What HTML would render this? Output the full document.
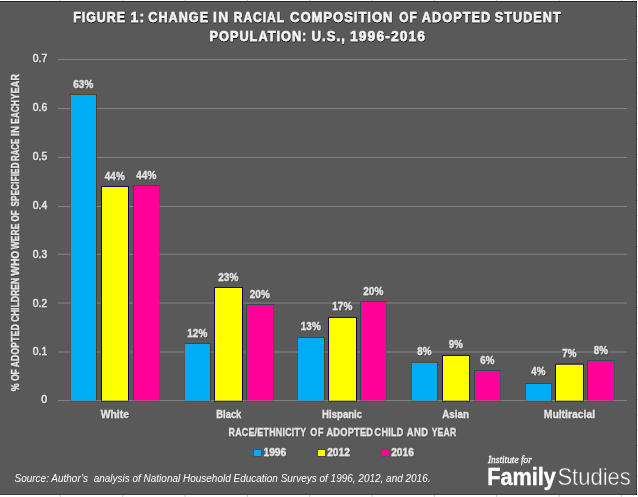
<!DOCTYPE html>
<html lang="en"><head><meta charset="utf-8">
<title>Figure 1: Change in racial composition of adopted student population: U.S., 1996-2016</title>
<style>
html,body{margin:0;padding:0;background:#fff;}
body{width:638px;height:497px;overflow:hidden;}
svg{display:block;}
text{font-family:"Liberation Sans",sans-serif;}
.b{font-weight:bold;fill:#e4e4e4;stroke:#e4e4e4;stroke-width:0.3px;}
.t{font-weight:bold;fill:#f4f4f4;stroke:#f4f4f4;stroke-width:0.45px;font-size:14px;}
.ax{fill:#e4e4e4;stroke:#e4e4e4;stroke-width:0.5px;font-size:11px;}
.src{fill:#fff;font-style:italic;font-size:10px;}
.sh{filter:url(#sh);}
.sh2{filter:url(#sh2);}
</style></head><body>
<svg width="638" height="497" viewBox="0 0 638 497">
<defs>
<filter id="sh" x="-5%" y="-30%" width="110%" height="170%"><feDropShadow dx="0.3" dy="0.5" stdDeviation="0.7" flood-color="#000" flood-opacity="0.5"/></filter>
<filter id="sh2" x="-5%" y="-30%" width="110%" height="170%"><feDropShadow dx="0.3" dy="1" stdDeviation="0.5" flood-color="#000" flood-opacity="0.9"/></filter>
</defs>
<rect x="0" y="0" width="638" height="497" fill="#fff"/>
<rect x="59.8" y="0" width="1" height="1" fill="#d0d0d0"/>
<rect x="59.8" y="495" width="1" height="2" fill="#d0d0d0"/>
<rect x="122.2" y="0" width="1" height="1" fill="#d0d0d0"/>
<rect x="122.2" y="495" width="1" height="2" fill="#d0d0d0"/>
<rect x="184.5" y="0" width="1" height="1" fill="#d0d0d0"/>
<rect x="184.5" y="495" width="1" height="2" fill="#d0d0d0"/>
<rect x="246.9" y="0" width="1" height="1" fill="#d0d0d0"/>
<rect x="246.9" y="495" width="1" height="2" fill="#d0d0d0"/>
<rect x="309.2" y="0" width="1" height="1" fill="#d0d0d0"/>
<rect x="309.2" y="495" width="1" height="2" fill="#d0d0d0"/>
<rect x="371.6" y="0" width="1" height="1" fill="#d0d0d0"/>
<rect x="371.6" y="495" width="1" height="2" fill="#d0d0d0"/>
<rect x="433.9" y="0" width="1" height="1" fill="#d0d0d0"/>
<rect x="433.9" y="495" width="1" height="2" fill="#d0d0d0"/>
<rect x="496.2" y="0" width="1" height="1" fill="#d0d0d0"/>
<rect x="496.2" y="495" width="1" height="2" fill="#d0d0d0"/>
<rect x="558.6" y="0" width="1" height="1" fill="#d0d0d0"/>
<rect x="558.6" y="495" width="1" height="2" fill="#d0d0d0"/>
<rect x="620.9" y="0" width="1" height="1" fill="#d0d0d0"/>
<rect x="620.9" y="495" width="1" height="2" fill="#d0d0d0"/>
<rect x="637" y="15.8" width="1" height="1" fill="#d4d4d4"/>
<rect x="637" y="31.1" width="1" height="1" fill="#d4d4d4"/>
<rect x="637" y="46.5" width="1" height="1" fill="#d4d4d4"/>
<rect x="637" y="61.8" width="1" height="1" fill="#d4d4d4"/>
<rect x="637" y="77.1" width="1" height="1" fill="#d4d4d4"/>
<rect x="637" y="92.5" width="1" height="1" fill="#d4d4d4"/>
<rect x="637" y="107.8" width="1" height="1" fill="#d4d4d4"/>
<rect x="637" y="123.1" width="1" height="1" fill="#d4d4d4"/>
<rect x="637" y="138.4" width="1" height="1" fill="#d4d4d4"/>
<rect x="637" y="153.8" width="1" height="1" fill="#d4d4d4"/>
<rect x="637" y="169.1" width="1" height="1" fill="#d4d4d4"/>
<rect x="637" y="184.4" width="1" height="1" fill="#d4d4d4"/>
<rect x="637" y="199.8" width="1" height="1" fill="#d4d4d4"/>
<rect x="637" y="215.1" width="1" height="1" fill="#d4d4d4"/>
<rect x="637" y="230.4" width="1" height="1" fill="#d4d4d4"/>
<rect x="637" y="245.8" width="1" height="1" fill="#d4d4d4"/>
<rect x="637" y="261.1" width="1" height="1" fill="#d4d4d4"/>
<rect x="637" y="276.4" width="1" height="1" fill="#d4d4d4"/>
<rect x="637" y="291.7" width="1" height="1" fill="#d4d4d4"/>
<rect x="637" y="307.1" width="1" height="1" fill="#d4d4d4"/>
<rect x="637" y="322.4" width="1" height="1" fill="#d4d4d4"/>
<rect x="637" y="337.7" width="1" height="1" fill="#d4d4d4"/>
<rect x="637" y="353.1" width="1" height="1" fill="#d4d4d4"/>
<rect x="637" y="368.4" width="1" height="1" fill="#d4d4d4"/>
<rect x="637" y="383.7" width="1" height="1" fill="#d4d4d4"/>
<rect x="637" y="399.1" width="1" height="1" fill="#d4d4d4"/>
<rect x="637" y="414.4" width="1" height="1" fill="#d4d4d4"/>
<rect x="637" y="429.7" width="1" height="1" fill="#d4d4d4"/>
<rect x="637" y="445.0" width="1" height="1" fill="#d4d4d4"/>
<rect x="637" y="460.4" width="1" height="1" fill="#d4d4d4"/>
<rect x="637" y="475.7" width="1" height="1" fill="#d4d4d4"/>
<rect x="637" y="491.0" width="1" height="1" fill="#d4d4d4"/>
<rect x="0" y="1" width="637" height="494" fill="#3c3c3c"/>
<rect x="0" y="1" width="637" height="1" fill="#242424"/>
<rect x="636" y="1" width="1" height="1" fill="#000"/>
<rect x="636" y="494" width="1" height="1" fill="#000"/>
<rect x="0" y="2" width="636" height="492" fill="#595959"/>
<rect x="58" y="351.5" width="569" height="1" fill="#828282"/>
<rect x="58" y="302.55" width="569" height="1" fill="#828282"/>
<rect x="58" y="253.75" width="569" height="1" fill="#828282"/>
<rect x="58" y="206" width="569" height="1" fill="#828282"/>
<rect x="58" y="157" width="569" height="1" fill="#828282"/>
<rect x="58" y="108" width="569" height="1" fill="#828282"/>
<rect x="58" y="59" width="569" height="1" fill="#828282"/>
<rect x="58" y="400" width="569" height="1" fill="#828282"/>
<rect x="71" y="95" width="25" height="306" fill="#00adf5"/>
<rect x="70" y="94" width="27" height="1" fill="#4d3205" fill-opacity="0.55"/>
<rect x="96" y="95" width="1" height="306" fill="#4d3205" fill-opacity="0.7"/>
<rect x="70" y="401" width="27" height="1" fill="#4d3205" fill-opacity="0.3"/>
<rect x="70" y="95" width="1" height="306" fill="#4d3205" fill-opacity="0.22"/>
<rect x="102" y="187" width="26" height="214" fill="#ffff00"/>
<rect x="101" y="186" width="28" height="1" fill="#12005f" fill-opacity="0.85"/>
<rect x="128" y="187" width="1" height="214" fill="#12005f" fill-opacity="1"/>
<rect x="101" y="401" width="28" height="1" fill="#12005f" fill-opacity="0.45"/>
<rect x="101" y="187" width="1" height="214" fill="#12005f" fill-opacity="1"/>
<rect x="134" y="186" width="25" height="215" fill="#ff0099"/>
<rect x="133" y="185" width="27" height="1" fill="#0d5544" fill-opacity="0.7"/>
<rect x="159" y="186" width="1" height="215" fill="#0d5544" fill-opacity="0.22"/>
<rect x="133" y="401" width="27" height="1" fill="#0d5544" fill-opacity="0.35"/>
<rect x="133" y="186" width="1" height="215" fill="#0d5544" fill-opacity="0.85"/>
<rect x="185" y="344" width="25" height="57" fill="#00adf5"/>
<rect x="184" y="343" width="27" height="1" fill="#4d3205" fill-opacity="0.55"/>
<rect x="210" y="344" width="1" height="57" fill="#4d3205" fill-opacity="0.7"/>
<rect x="184" y="401" width="27" height="1" fill="#4d3205" fill-opacity="0.3"/>
<rect x="184" y="344" width="1" height="57" fill="#4d3205" fill-opacity="0.22"/>
<rect x="215" y="288" width="27" height="113" fill="#ffff00"/>
<rect x="214" y="287" width="29" height="1" fill="#12005f" fill-opacity="0.85"/>
<rect x="242" y="288" width="1" height="113" fill="#12005f" fill-opacity="1"/>
<rect x="214" y="401" width="29" height="1" fill="#12005f" fill-opacity="0.45"/>
<rect x="214" y="288" width="1" height="113" fill="#12005f" fill-opacity="1"/>
<rect x="247" y="305" width="26" height="96" fill="#ff0099"/>
<rect x="246" y="304" width="28" height="1" fill="#0d5544" fill-opacity="0.7"/>
<rect x="273" y="305" width="1" height="96" fill="#0d5544" fill-opacity="0.22"/>
<rect x="246" y="401" width="28" height="1" fill="#0d5544" fill-opacity="0.35"/>
<rect x="246" y="305" width="1" height="96" fill="#0d5544" fill-opacity="0.85"/>
<rect x="298" y="338" width="26" height="63" fill="#00adf5"/>
<rect x="297" y="337" width="28" height="1" fill="#4d3205" fill-opacity="0.55"/>
<rect x="324" y="338" width="1" height="63" fill="#4d3205" fill-opacity="0.7"/>
<rect x="297" y="401" width="28" height="1" fill="#4d3205" fill-opacity="0.3"/>
<rect x="297" y="338" width="1" height="63" fill="#4d3205" fill-opacity="0.22"/>
<rect x="329" y="318" width="27" height="83" fill="#ffff00"/>
<rect x="328" y="317" width="29" height="1" fill="#12005f" fill-opacity="0.85"/>
<rect x="356" y="318" width="1" height="83" fill="#12005f" fill-opacity="1"/>
<rect x="328" y="401" width="29" height="1" fill="#12005f" fill-opacity="0.45"/>
<rect x="328" y="318" width="1" height="83" fill="#12005f" fill-opacity="1"/>
<rect x="361" y="302" width="25" height="99" fill="#ff0099"/>
<rect x="360" y="301" width="27" height="1" fill="#0d5544" fill-opacity="0.7"/>
<rect x="386" y="302" width="1" height="99" fill="#0d5544" fill-opacity="0.22"/>
<rect x="360" y="401" width="27" height="1" fill="#0d5544" fill-opacity="0.35"/>
<rect x="360" y="302" width="1" height="99" fill="#0d5544" fill-opacity="0.85"/>
<rect x="412" y="362.8" width="25" height="38.2" fill="#00adf5"/>
<rect x="411" y="361.8" width="27" height="1" fill="#4d3205" fill-opacity="0.55"/>
<rect x="437" y="362.8" width="1" height="38.2" fill="#4d3205" fill-opacity="0.7"/>
<rect x="411" y="401" width="27" height="1" fill="#4d3205" fill-opacity="0.3"/>
<rect x="411" y="362.8" width="1" height="38.2" fill="#4d3205" fill-opacity="0.22"/>
<rect x="443" y="356" width="26" height="45" fill="#ffff00"/>
<rect x="442" y="355" width="28" height="1" fill="#12005f" fill-opacity="0.85"/>
<rect x="469" y="356" width="1" height="45" fill="#12005f" fill-opacity="1"/>
<rect x="442" y="401" width="28" height="1" fill="#12005f" fill-opacity="0.45"/>
<rect x="442" y="356" width="1" height="45" fill="#12005f" fill-opacity="1"/>
<rect x="475" y="371" width="25" height="30" fill="#ff0099"/>
<rect x="474" y="370" width="27" height="1" fill="#0d5544" fill-opacity="0.7"/>
<rect x="500" y="371" width="1" height="30" fill="#0d5544" fill-opacity="0.22"/>
<rect x="474" y="401" width="27" height="1" fill="#0d5544" fill-opacity="0.35"/>
<rect x="474" y="371" width="1" height="30" fill="#0d5544" fill-opacity="0.85"/>
<rect x="526" y="384" width="25" height="17" fill="#00adf5"/>
<rect x="525" y="383" width="27" height="1" fill="#4d3205" fill-opacity="0.55"/>
<rect x="551" y="384" width="1" height="17" fill="#4d3205" fill-opacity="0.7"/>
<rect x="525" y="401" width="27" height="1" fill="#4d3205" fill-opacity="0.3"/>
<rect x="525" y="384" width="1" height="17" fill="#4d3205" fill-opacity="0.22"/>
<rect x="556" y="364.6" width="27" height="36.4" fill="#ffff00"/>
<rect x="555" y="363.6" width="29" height="1" fill="#12005f" fill-opacity="0.85"/>
<rect x="583" y="364.6" width="1" height="36.4" fill="#12005f" fill-opacity="1"/>
<rect x="555" y="401" width="29" height="1" fill="#12005f" fill-opacity="0.45"/>
<rect x="555" y="364.6" width="1" height="36.4" fill="#12005f" fill-opacity="1"/>
<rect x="588" y="361" width="26" height="40" fill="#ff0099"/>
<rect x="587" y="360" width="28" height="1" fill="#0d5544" fill-opacity="0.7"/>
<rect x="614" y="361" width="1" height="40" fill="#0d5544" fill-opacity="0.22"/>
<rect x="587" y="401" width="28" height="1" fill="#0d5544" fill-opacity="0.35"/>
<rect x="587" y="361" width="1" height="40" fill="#0d5544" fill-opacity="0.85"/>
<rect x="58" y="400" width="569" height="1" fill="#828282" fill-opacity="0.55"/>
<g class="b sh" font-size="10.1" text-anchor="middle">
<text x="83.3" y="87.9" textLength="19.9" lengthAdjust="spacingAndGlyphs">63%</text>
<text x="114.8" y="179.7" textLength="19.9" lengthAdjust="spacingAndGlyphs">44%</text>
<text x="146.3" y="178.7" textLength="19.9" lengthAdjust="spacingAndGlyphs">44%</text>
<text x="197.3" y="336.9" textLength="19.9" lengthAdjust="spacingAndGlyphs">12%</text>
<text x="228.3" y="281.0" textLength="19.9" lengthAdjust="spacingAndGlyphs">23%</text>
<text x="259.8" y="297.8" textLength="19.9" lengthAdjust="spacingAndGlyphs">20%</text>
<text x="310.8" y="330.2" textLength="19.9" lengthAdjust="spacingAndGlyphs">13%</text>
<text x="342.3" y="310.2" textLength="19.9" lengthAdjust="spacingAndGlyphs">17%</text>
<text x="373.3" y="295.1" textLength="19.9" lengthAdjust="spacingAndGlyphs">20%</text>
<text x="424.3" y="355.1" textLength="14.1" lengthAdjust="spacingAndGlyphs">8%</text>
<text x="455.8" y="348.0" textLength="14.1" lengthAdjust="spacingAndGlyphs">9%</text>
<text x="487.3" y="364.0" textLength="14.1" lengthAdjust="spacingAndGlyphs">6%</text>
<text x="538.3" y="375.4" textLength="14.1" lengthAdjust="spacingAndGlyphs">4%</text>
<text x="569.3" y="357.4" textLength="14.1" lengthAdjust="spacingAndGlyphs">7%</text>
<text x="600.8" y="353.7" textLength="14.1" lengthAdjust="spacingAndGlyphs">8%</text>
</g>
<g class="ax sh" text-anchor="end">
<text x="47.2" y="403.3" textLength="5.9" lengthAdjust="spacingAndGlyphs">0</text>
<text x="47.2" y="355.3" textLength="14.4" lengthAdjust="spacingAndGlyphs">0.1</text>
<text x="47.2" y="306.6" textLength="14.4" lengthAdjust="spacingAndGlyphs">0.2</text>
<text x="47.2" y="257.8" textLength="14.4" lengthAdjust="spacingAndGlyphs">0.3</text>
<text x="47.2" y="208.9" textLength="14.4" lengthAdjust="spacingAndGlyphs">0.4</text>
<text x="47.2" y="159.9" textLength="14.4" lengthAdjust="spacingAndGlyphs">0.5</text>
<text x="47.2" y="110.9" textLength="14.4" lengthAdjust="spacingAndGlyphs">0.6</text>
<text x="47.2" y="61.9" textLength="14.4" lengthAdjust="spacingAndGlyphs">0.7</text>
</g>
<g class="b sh" font-size="11.5" text-anchor="middle">
<text x="114.8" y="418.3" textLength="28.3" lengthAdjust="spacingAndGlyphs">White</text>
<text x="228.8" y="418.3" textLength="25.1" lengthAdjust="spacingAndGlyphs">Black</text>
<text x="342.1" y="418.3" textLength="40.0" lengthAdjust="spacingAndGlyphs">Hispanic</text>
<text x="455.6" y="418.3" textLength="26.5" lengthAdjust="spacingAndGlyphs">Asian</text>
<text x="569.4" y="418.3" textLength="51.3" lengthAdjust="spacingAndGlyphs">Multiracial</text>
</g>
<g class="t sh2">
<text transform="translate(73.16 21.6) scale(0.883 1)" textLength="58.63" lengthAdjust="spacing">FIGURE</text>
<text transform="translate(130.61 21.6) scale(1.012 1)" textLength="13.54" lengthAdjust="spacing">1:</text>
<text transform="translate(148.31 21.6) scale(0.9 1)" textLength="66.36" lengthAdjust="spacing">CHANGE</text>
<text transform="translate(212.98 21.6) scale(0.986 1)" textLength="15.50" lengthAdjust="spacing">IN</text>
<text transform="translate(233.74 21.6) scale(0.859 1)" textLength="58.60" lengthAdjust="spacing">RACIAL</text>
<text transform="translate(289.98 21.6) scale(0.935 1)" textLength="109.70" lengthAdjust="spacing">COMPOSITION</text>
<text transform="translate(399.15 21.6) scale(0.847 1)" textLength="20.76" lengthAdjust="spacing">OF</text>
<text transform="translate(421.85 21.6) scale(0.906 1)" textLength="75.31" lengthAdjust="spacing">ADOPTED</text>
<text transform="translate(494.77 21.6) scale(0.899 1)" textLength="73.24" lengthAdjust="spacing">STUDENT</text>
</g>
<g class="t sh2">
<text transform="translate(209.49 40.7) scale(0.908 1)" textLength="106.64" lengthAdjust="spacing">POPULATION:</text>
<text transform="translate(311.57 40.7) scale(0.935 1)" textLength="35.52" lengthAdjust="spacing">U.S.,</text>
<text transform="translate(349.94 40.7) scale(0.992 1)" textLength="75.78" lengthAdjust="spacing">1996-2016</text>
</g>
<g class="b sh" font-size="11.4">
<text transform="translate(228.55 435.8) scale(0.776 1)" textLength="99.91" lengthAdjust="spacing">RACE/ETHNICITY</text>
<text transform="translate(310.17 435.8) scale(0.783 1)" textLength="16.97" lengthAdjust="spacing">OF</text>
<text transform="translate(326.42 435.8) scale(0.807 1)" textLength="57.68" lengthAdjust="spacing">ADOPTED</text>
<text transform="translate(374.59 435.8) scale(0.786 1)" textLength="36.48" lengthAdjust="spacing">CHILD</text>
<text transform="translate(406.72 435.8) scale(0.827 1)" textLength="25.83" lengthAdjust="spacing">AND</text>
<text transform="translate(431.66 435.8) scale(0.751 1)" textLength="32.50" lengthAdjust="spacing">YEAR</text>
</g>
<g class="b sh" font-size="10.6">
<text transform="translate(19.1 391.25) rotate(-90) scale(0.831 1)" textLength="11.30" lengthAdjust="spacing">%</text>
<text transform="translate(19.1 380.76) rotate(-90) scale(0.79 1)" textLength="14.49" lengthAdjust="spacing">OF</text>
<text transform="translate(19.1 367.35) rotate(-90) scale(0.798 1)" textLength="54.04" lengthAdjust="spacing">ADOPTED</text>
<text transform="translate(19.1 321.87) rotate(-90) scale(0.782 1)" textLength="55.98" lengthAdjust="spacing">CHILDREN</text>
<text transform="translate(19.1 275.67) rotate(-90) scale(0.968 1)" textLength="25.72" lengthAdjust="spacing">WHO</text>
<text transform="translate(19.1 249.22) rotate(-90) scale(0.792 1)" textLength="32.15" lengthAdjust="spacing">WERE</text>
<text transform="translate(19.1 221.38) rotate(-90) scale(0.756 1)" textLength="14.64" lengthAdjust="spacing">OF</text>
<text transform="translate(19.1 206.58) rotate(-90) scale(0.761 1)" textLength="57.95" lengthAdjust="spacing">SPECIFIED</text>
<text transform="translate(19.1 160.89) rotate(-90) scale(0.74 1)" textLength="29.89" lengthAdjust="spacing">RACE</text>
<text transform="translate(19.1 135.92) rotate(-90) scale(0.919 1)" textLength="10.74" lengthAdjust="spacing">IN</text>
<text transform="translate(19.1 123.72) rotate(-90) scale(0.761 1)" textLength="31.02" lengthAdjust="spacing">EACH</text>
<text transform="translate(19.1 99.47) rotate(-90) scale(0.835 1)" textLength="30.34" lengthAdjust="spacing">YEAR</text>
</g>
<rect x="253.5" y="449.5" width="8" height="7" fill="#4d3205" fill-opacity="0.45"/>
<rect x="254" y="450" width="7" height="6" fill="#00adf5"/>
<text class="b sh" style="stroke-width:0.4px" font-size="11.2" x="263.5" y="455.8" textLength="22.6" lengthAdjust="spacingAndGlyphs">1996</text>
<rect x="317.5" y="449.5" width="8" height="7" fill="#12005f" fill-opacity="0.45"/>
<rect x="318" y="450" width="7" height="6" fill="#ffff00"/>
<text class="b sh" style="stroke-width:0.4px" font-size="11.2" x="327.2" y="455.8" textLength="22.6" lengthAdjust="spacingAndGlyphs">2012</text>
<rect x="381.5" y="449.5" width="8" height="7" fill="#0d5544" fill-opacity="0.45"/>
<rect x="382" y="450" width="7" height="6" fill="#ff0099"/>
<text class="b sh" style="stroke-width:0.4px" font-size="11.2" x="391.2" y="455.8" textLength="22.6" lengthAdjust="spacingAndGlyphs">2016</text>
<text class="src" x="14.5" y="481.9" textLength="416" lengthAdjust="spacingAndGlyphs" xml:space="preserve">Source: Author’s  analysis of National Household Education Surveys of 1996, 2012, and 2016.</text>
<text x="488.0" y="462.8" textLength="43.8" lengthAdjust="spacingAndGlyphs" style="font-family:'Liberation Serif',serif;font-style:italic;font-size:11.2px;fill:#fff;stroke:#fff;stroke-width:0.3px">Institute for</text>
<text x="487.3" y="485" textLength="68.6" lengthAdjust="spacingAndGlyphs" style="font-weight:bold;font-size:24px;fill:#fff;stroke:#fff;stroke-width:0.4px">Family</text>
<text x="557.4" y="485" textLength="73.4" lengthAdjust="spacingAndGlyphs" style="font-size:24px;fill:#fff;stroke:#595959;stroke-width:0.45px;paint-order:fill stroke">Studies</text>
</svg>
</body></html>
